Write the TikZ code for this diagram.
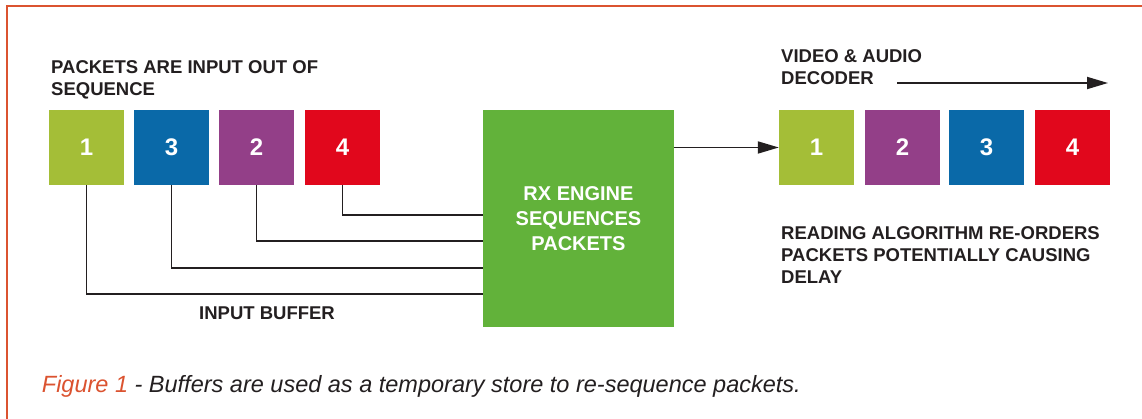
\documentclass[tikz,border=0pt]{standalone}
\usepackage{fontspec}
\setmainfont{Liberation Sans}
\usetikzlibrary{arrows.meta}

\definecolor{frameorange}{HTML}{DB5330}
\definecolor{pktlime}{HTML}{A4BE37}
\definecolor{pktblue}{HTML}{0A69A8}
\definecolor{pktpurple}{HTML}{933F88}
\definecolor{pktred}{HTML}{E1071C}
\definecolor{enginegreen}{HTML}{62B23A}
\definecolor{inkdark}{HTML}{231F20}

\tikzset{
  pkt/.style={minimum width=75pt, minimum height=75pt, inner sep=0pt,
    text=white, font=\fontsize{24}{24}\selectfont\bfseries},
  label/.style={anchor=base west, inner sep=0pt, align=left, text=inkdark,
    font=\fontsize{18.5}{22.3}\selectfont\bfseries},
  wire/.style={line width=1.8pt, draw=inkdark},
  arr/.style={line width=1.8pt, draw=inkdark,
    -{Triangle[length=21pt, width=12pt]}}
}

\begin{document}
\begin{tikzpicture}[x=1pt, y=-1pt]
\useasboundingbox (0,0) rectangle (1142,419);

% frame on the top and left edges
\draw[frameorange, line width=2.4pt] (6.7,419) -- (6.7,6.3) -- (1142,6.3);

% incoming packets, out of order (label placed by its last line)
\node[label] (title-in) at (51,96) {PACKETS ARE INPUT OUT OF\\SEQUENCE};
\node[pkt, fill=pktlime]   (in1) at (86.5,147.5)  {1};
\node[pkt, fill=pktblue]   (in3) at (171.5,147.5) {3};
\node[pkt, fill=pktpurple] (in2) at (256.5,147.5) {2};
\node[pkt, fill=pktred]    (in4) at (342.5,147.5) {4};

% re-sequencing engine
\node[fill=enginegreen, minimum width=191pt, minimum height=217pt, inner sep=0pt,
      text=white, align=center, font=\fontsize{20}{25}\selectfont\bfseries]
  (engine) at (578.5,218.5) {RX ENGINE\\SEQUENCES\\PACKETS};

% buffer entry points on the engine's left side
\coordinate (port4) at (engine.west |- 0,215);
\coordinate (port2) at (engine.west |- 0,241.3);
\coordinate (port3) at (engine.west |- 0,267.7);
\coordinate (port1) at (engine.west |- 0,294);

\draw[wire] (in4.south) |- (port4);
\draw[wire] (in2.south) |- (port2);
\draw[wire] (in3.south) |- (port3);
\draw[wire] (in1.south) |- (port1);

\node[label] (buffer) at (199,319.3) {INPUT BUFFER};

% decoder side, packets back in order
\node[label] (title-out) at (781,85) {VIDEO \& AUDIO\\DECODER};
\coordinate (flow-start) at (897,83);
\coordinate (flow-end) at (1108,83);
\draw[arr] (flow-start) -- (flow-end);

\node[pkt, fill=pktlime]   (out1) at (816.5,147.5)  {1};
\node[pkt, fill=pktpurple] (out2) at (902.5,147.5)  {2};
\node[pkt, fill=pktblue]   (out3) at (986.5,147.5)  {3};
\node[pkt, fill=pktred]    (out4) at (1072.5,147.5) {4};

\draw[arr] (out1.west -| engine.east) -- (out1.west);

\node[label] (note) at (781,284)
  {READING ALGORITHM RE-ORDERS\\PACKETS POTENTIALLY CAUSING\\DELAY};

% caption
\node[anchor=base west, inner sep=0pt, font=\fontsize{23.5}{23.5}\selectfont\itshape]
  (caption) at (41.7,392.3)
  {\textcolor{frameorange}{Figure 1}\ \textcolor{inkdark}{- Buffers are used as a temporary store to re-sequence packets.}};
\end{tikzpicture}
\end{document}
